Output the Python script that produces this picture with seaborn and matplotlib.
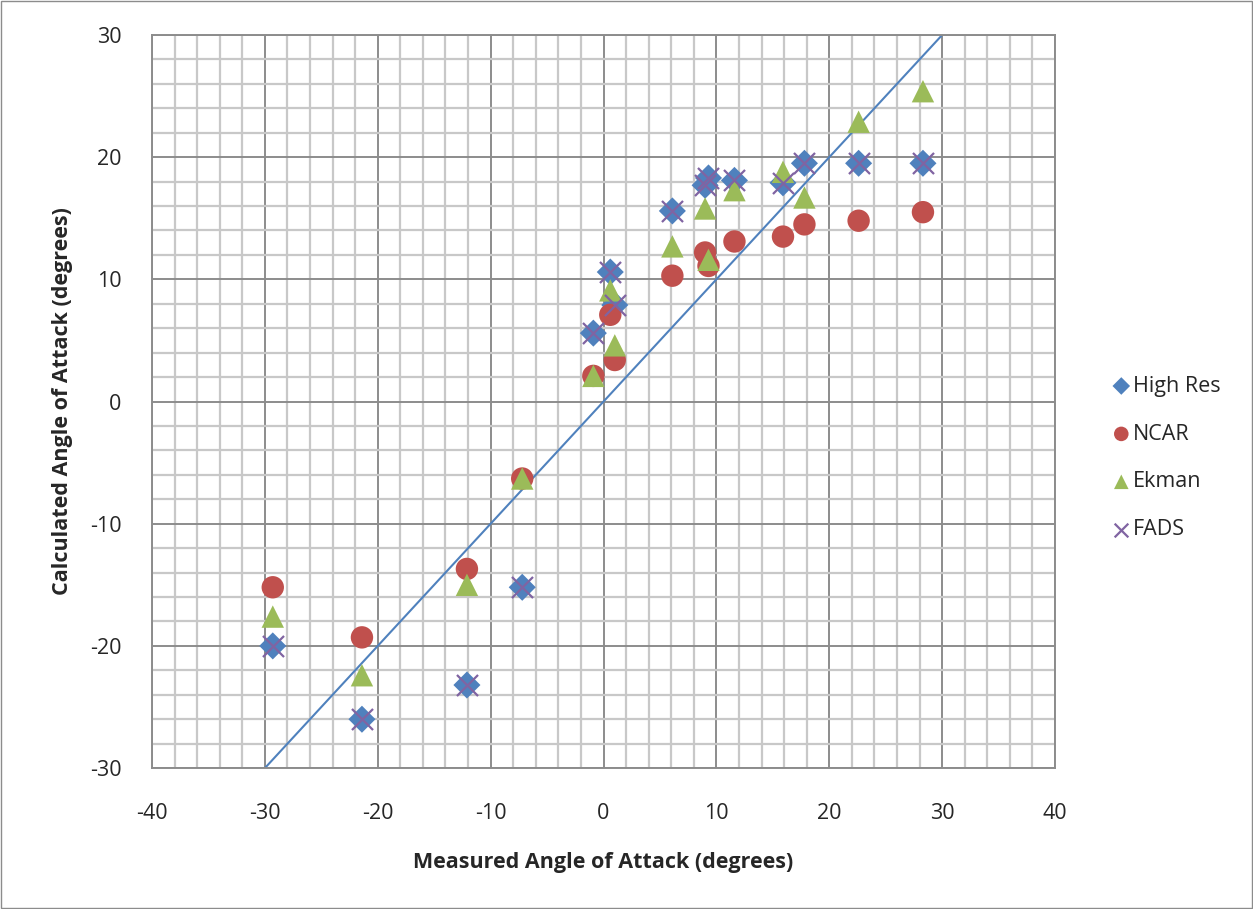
import numpy as np
import pandas as pd
import seaborn as sns
import matplotlib.pyplot as plt
from matplotlib.patches import Rectangle
from matplotlib.ticker import MultipleLocator

# measured angle of attack (x)
measured = [-29.3, -21.4, -12.1, -7.2, -0.9, 0.6, 1.0, 6.1, 9.0, 9.3, 11.6, 15.9, 17.8, 22.6, 28.3]

high_res = [-20.0, -26.0, -23.2, -15.2, 5.6, 10.6, 7.9, 15.6, 17.7, 18.3, 18.1, 17.9, 19.5, 19.5, 19.5]
ncar = [-15.2, -19.3, -13.7, -6.3, 2.1, 7.1, 3.4, 10.3, 12.2, 11.1, 13.1, 13.5, 14.5, 14.8, 15.5]
ekman = [-17.6, -22.4, -15.0, -6.3, 2.1, 9.1, 4.6, 12.7, 15.8, 11.6, 17.3, 18.8, 16.7, 22.9, 25.4]
fads = [-20.0, -26.0, -23.2, -15.2, 5.6, 10.6, 7.9, 15.6, 17.7, 18.3, 18.1, 17.9, 19.5, 19.5, 19.5]

# 1:1 reference line
line_x = [-30, 30]
line_y = [-30, 30]

df = pd.DataFrame({'measured': measured, 'High Res': high_res, 'NCAR': ncar,
                   'Ekman': ekman, 'FADS': fads})

sns.set_style('white')
plt.rcParams['font.family'] = ['Open Sans', 'DejaVu Sans']
plt.rcParams['axes.unicode_minus'] = False

fig = plt.figure(figsize=(12.53, 9.09), dpi=100)
ax = fig.add_axes([0.1213, 0.155, 0.7207, 0.8065])

ax.plot(line_x, line_y, color='#4F81BD', linewidth=1.5, zorder=2)

sns.scatterplot(data=df, x='measured', y='High Res', marker='D', s=190, color='#4F81BD',
                edgecolor='none', label='High Res', ax=ax, zorder=3)
sns.scatterplot(data=df, x='measured', y='NCAR', marker='o', s=260, color='#C0504D',
                edgecolor='none', label='NCAR', ax=ax, zorder=3)
sns.scatterplot(data=df, x='measured', y='Ekman', marker='^', s=260, color='#9BBB59',
                edgecolor='none', label='Ekman', ax=ax, zorder=3)
sns.scatterplot(data=df, x='measured', y='FADS', marker='x', s=230, color='#8064A2',
                linewidth=1.6, label='FADS', ax=ax, zorder=4)

ax.set_xlim(-40, 40)
ax.set_ylim(-30, 30)
ax.xaxis.set_major_locator(MultipleLocator(10))
ax.yaxis.set_major_locator(MultipleLocator(10))
ax.xaxis.set_minor_locator(MultipleLocator(2))
ax.yaxis.set_minor_locator(MultipleLocator(2))
ax.grid(which='minor', color='#C8C8C8', linewidth=1.6, zorder=0)
ax.grid(which='major', color='#8C8C8C', linewidth=1.4, zorder=1)
ax.set_axisbelow(True)
for sp in ax.spines.values():
    sp.set_color('#8C8C8C')
    sp.set_linewidth(1.4)
ax.tick_params(which='major', length=0, labelsize=15.5)
ax.tick_params(axis='x', pad=25)
ax.tick_params(axis='y', pad=22)
ax.tick_params(which='minor', length=0)

ax.set_xlabel('Measured Angle of Attack (degrees)', fontsize=15.5, fontweight='bold', labelpad=20)
ax.set_ylabel('Calculated Angle of Attack (degrees)', fontsize=15.5, fontweight='bold', labelpad=12)

ax.legend(loc='center left', bbox_to_anchor=(1.04, 0.423), frameon=False, fontsize=15.5,
          labelspacing=1.25, handletextpad=0.05, handlelength=1.0, markerscale=0.65)

fig.patches.append(Rectangle((0.001, 0.001), 0.998, 0.998, transform=fig.transFigure,
                             fill=False, edgecolor='#8C8C8C', linewidth=1))

fig.savefig('out.png', dpi=100)
